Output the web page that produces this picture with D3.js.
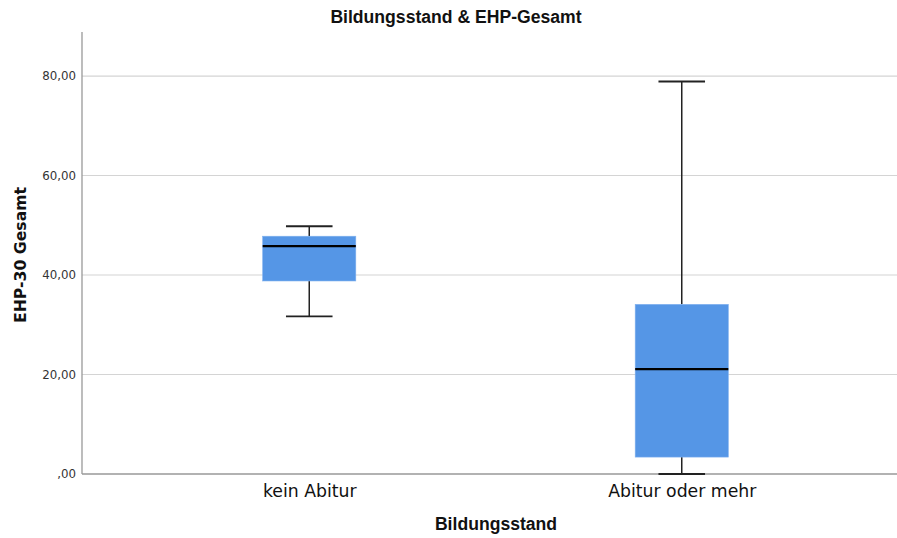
<!DOCTYPE html>
<html>
<head>
<meta charset="utf-8">
<script src="https://cdn.jsdelivr.net/npm/d3@7"></script>
<style>
  html, body { margin: 0; padding: 0; background: #fff; }
  svg { display: block; }
</style>
</head>
<body>
<svg id="chart" width="897" height="538"></svg>
<script>
// Boxplot summary per education group
const categories = ["kein Abitur", "Abitur oder mehr"];
const whiskerLow  = [31.7, 0.0];
const quartile1   = [38.8, 3.4];
const medians     = [45.8, 21.1];
const quartile3   = [47.8, 34.1];
const whiskerHigh = [49.8, 78.9];
const yTicks = [0, 20, 40, 60, 80];

const svg = d3.select("#chart");
const plot = { left: 82, right: 897, top: 32, bottom: 474 };

const y = d3.scaleLinear().domain([0, 88.85]).range([plot.bottom, plot.top]);
const x = d3.scalePoint().domain(categories).range([123, 868]).padding(0.5);
const step = x.step();
const boxW = step * 0.25;
const capW = boxW * 0.5;

const fmt = v => (v === 0 ? ",00" : d3.format(".2f")(v).replace(".", ","));

// Horizontal gridlines
svg.append("g")
  .selectAll("line")
  .data(yTicks.filter(t => t > 0))
  .join("line")
  .attr("x1", plot.left).attr("x2", plot.right)
  .attr("y1", d => y(d)).attr("y2", d => y(d))
  .attr("stroke", "#d4d4d4").attr("stroke-width", 1.2);

// Y axis
const yAxis = svg.append("g")
  .attr("transform", `translate(${plot.left},0)`)
  .call(d3.axisLeft(y).tickValues(yTicks).tickFormat(fmt).tickSize(0).tickPadding(6));
yAxis.select(".domain").remove();
yAxis.selectAll("text")
  .attr("font-family", "'DejaVu Sans', sans-serif")
  .attr("font-size", 11.8)
  .attr("fill", "#333");

svg.append("line")
  .attr("x1", plot.left).attr("x2", plot.left)
  .attr("y1", plot.top).attr("y2", plot.bottom)
  .attr("stroke", "#999").attr("stroke-width", 1.3);

// X axis
const xAxis = svg.append("g")
  .attr("transform", `translate(0,${plot.bottom})`)
  .call(d3.axisBottom(x).tickSize(0).tickPadding(11));
xAxis.select(".domain").remove();
xAxis.selectAll("text")
  .attr("font-family", "'DejaVu Sans', sans-serif")
  .attr("font-size", 17.3)
  .attr("fill", "#111");

svg.append("line")
  .attr("x1", plot.left).attr("x2", plot.right)
  .attr("y1", plot.bottom).attr("y2", plot.bottom)
  .attr("stroke", "#999").attr("stroke-width", 1.3);

// Boxes
const stats = categories.map((c, i) => ({
  c, lo: whiskerLow[i], q1: quartile1[i], med: medians[i], q3: quartile3[i], hi: whiskerHigh[i]
}));

const g = svg.append("g").selectAll("g").data(stats).join("g");

// whisker stems
g.append("line")
  .attr("x1", d => x(d.c)).attr("x2", d => x(d.c))
  .attr("y1", d => y(d.hi)).attr("y2", d => y(d.q3))
  .attr("stroke", "#222").attr("stroke-width", 1.5);
g.append("line")
  .attr("x1", d => x(d.c)).attr("x2", d => x(d.c))
  .attr("y1", d => y(d.q1)).attr("y2", d => y(d.lo))
  .attr("stroke", "#222").attr("stroke-width", 1.5);
// whisker caps
g.append("line")
  .attr("x1", d => x(d.c) - capW / 2).attr("x2", d => x(d.c) + capW / 2)
  .attr("y1", d => y(d.hi)).attr("y2", d => y(d.hi))
  .attr("stroke", "#222").attr("stroke-width", 1.8);
g.append("line")
  .attr("x1", d => x(d.c) - capW / 2).attr("x2", d => x(d.c) + capW / 2)
  .attr("y1", d => y(d.lo)).attr("y2", d => y(d.lo))
  .attr("stroke", "#222").attr("stroke-width", 1.8);
// box
g.append("rect")
  .attr("x", d => x(d.c) - boxW / 2)
  .attr("width", boxW)
  .attr("y", d => y(d.q3))
  .attr("height", d => y(d.q1) - y(d.q3))
  .attr("fill", "#5596E6")
  .attr("stroke", "#7fb0ee").attr("stroke-width", 0.6);
// median
g.append("line")
  .attr("x1", d => x(d.c) - boxW / 2).attr("x2", d => x(d.c) + boxW / 2)
  .attr("y1", d => y(d.med)).attr("y2", d => y(d.med))
  .attr("stroke", "#000").attr("stroke-width", 2.2);

// Titles
svg.append("text")
  .attr("x", 456).attr("y", 23)
  .attr("text-anchor", "middle")
  .attr("font-family", "'Liberation Sans Narrow', 'Arial Narrow', 'Liberation Sans', sans-serif")
  .attr("font-weight", "bold")
  .attr("font-size", 17.6)
  .attr("fill", "#111")
  .text("Bildungsstand & EHP-Gesamt");

svg.append("text")
  .attr("x", 496).attr("y", 530)
  .attr("text-anchor", "middle")
  .attr("font-family", "'Liberation Sans Narrow', 'Liberation Sans', sans-serif")
  .attr("font-weight", "bold")
  .attr("font-size", 17.6)
  .attr("fill", "#111")
  .text("Bildungsstand");

svg.append("text")
  .attr("transform", "translate(26,255) rotate(-90)")
  .attr("text-anchor", "middle")
  .attr("font-family", "'DejaVu Sans', sans-serif")
  .attr("font-weight", "bold")
  .attr("font-size", 15.7)
  .attr("fill", "#111")
  .text("EHP-30 Gesamt");
</script>
</body>
</html>
